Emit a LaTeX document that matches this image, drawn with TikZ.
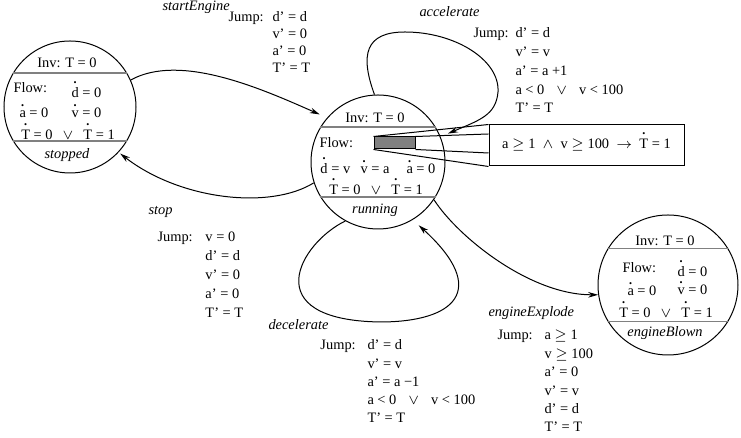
\documentclass[tikz,border=0pt]{standalone}
\usepackage{fontspec}
\setmainfont{Liberation Serif}
\usepackage{graphicx}
\usetikzlibrary{arrows.meta}
\newcommand{\figfont}{\fontsize{7.2}{8.6}\selectfont}
\newlength{\dotht}
\newcommand{\dt}[1]{\settoheight{\dotht}{#1}%
  \ooalign{#1\cr\hidewidth\raisebox{\dimexpr\dotht+0.2em\relax}{\scalebox{0.6}{\textbullet}}\hidewidth\cr}}
\newcommand{\trow}{\dt{T} = 0\hspace{5pt}$\vee$\hspace{5pt}\dt{T} = 1}
\newcommand{\modeframe}[5]{%
  \node[mode=#4] (#1) at (#2,#3) {};
  \draw[chord] (#1.149) -- (#1.31);
  \draw[chord] (#1.211) -- (#1.329);
  \node[lbl] (#1-inv) at ([shift={(-3,39)}]#1.center) {Inv: T = 0};
  \node[lbl] (#1-trow) at ([shift={(-2,-33)}]#1.center) {\trow};
  \node[lbl,font=\figfont\itshape] (#1-name) at ([shift={(-3,-52)}]#1.center) {#5};
}
\newcommand{\jumpblock}[6]{%
  \node[txt] (#1-jump) at (#2,#4) {Jump:};
  \foreach \e [count=\i from 0] in {#6}
    {\node[txt] (#1-\i) at (#3,{#4-\i*#5}) {\e};}%
}

\begin{document}
\begin{tikzpicture}[x=0.5pt,y=0.5pt,line width=0.5pt,font=\figfont,
  mode/.style={circle,draw,inner sep=0pt,minimum size=#1},
  chord/.style={draw=gray,line width=0.8pt},
  lbl/.style={anchor=base,inner sep=0pt},
  txt/.style={anchor=base west,inner sep=0pt},
  tname/.style={txt,font=\figfont\itshape},
  trans/.style={-{Stealth[length=5pt,width=2.8pt]},shorten >=4pt}]
  \useasboundingbox (0,0) rectangle (741,438);

  % locations
  \modeframe{stopped}{70}{331}{66pt}{stopped}
  \modeframe{running}{378}{276}{67pt}{running}
  \modeframe{blown}{668}{153}{70pt}{engineBlown}

  % flows
  \node[txt] (stopped-flow) at (13,345) {Flow:};
  \node[txt] (stopped-d) at (71,340) {\dt{d} = 0};
  \node[txt] (stopped-a) at (19,320) {\dt{a} = 0};
  \node[txt] (stopped-v) at (71,320) {\dt{v} = 0};
  \node[txt] (running-flow) at (319,290) {Flow:};
  \node[txt] (running-d) at (320,264) {\dt{d} = v};
  \node[txt] (running-v) at (360,264) {\dt{v} = a};
  \node[txt] (running-a) at (406,264) {\dt{a} = 0};
  \node[txt] (blown-flow) at (622,165) {Flow:};
  \node[txt] (blown-d) at (677,161) {\dt{d} = 0};
  \node[txt] (blown-a) at (627,142) {\dt{a} = 0};
  \node[txt] (blown-v) at (677,143) {\dt{v} = 0};

  % zoomed guard
  \node[draw,fill=gray,minimum width=20.5pt,minimum height=6pt,inner sep=0pt] (hilite) at (394.5,295) {};
  \node[draw,minimum width=97.5pt,minimum height=20.5pt,inner sep=0pt] (guard) at (586.5,292.5)
    {a $\geq$ 1\enspace$\wedge$\enspace v $\geq$ 100\enspace$\rightarrow$\enspace\dt{T} = 1};
  \draw (hilite.north west) -- (guard.north west);
  \draw (hilite.north east) -- ([yshift=5.75pt]guard.west);
  \draw (hilite.south east) -- ([yshift=-3.75pt]guard.west);
  \draw (hilite.south west) -- (guard.south west);

  % transitions
  \draw[trans] (stopped.24) .. controls (180,385) and (260,350) .. (running.139);
  \draw[trans,shorten >=1pt] (running.198) .. controls (270,228) and (180,238) .. (stopped.317);
  \draw[trans,shorten >=0pt] (running.326) .. controls (458,201) and (530,143) .. (blown.188);
  \draw[trans] (running.93) .. controls (360,383) and (365,406) .. (405,406)
    .. controls (455,406) and (500,378) .. (498,346)
    .. controls (496,323) and (480,318) .. (running.22);
  \draw[trans] (running.241) .. controls (300,195) and (255,118) .. (380,116)
    .. controls (455,116) and (490,148) .. (running.301);

  % jump labels
  \node[tname] (start-name) at (162,427) {startEngine};
  \jumpblock{start}{228}{272}{416}{16.7}{d' = d, v' = 0, a' = 0, T' = T}
  \node[tname] (acc-name) at (419,421) {accelerate};
  \jumpblock{acc}{473}{515}{400}{18.75}{d' = d, v' = v, a' = a +1,
    a < 0\hspace{6pt}$\vee$\hspace{6pt}v < 100, T' = T}
  \node[tname] (stop-name) at (148,223) {stop};
  \jumpblock{stop}{157}{205}{196}{19}{v = 0, d' = d, v' = 0, a' = 0, T' = T}
  \node[tname] (dec-name) at (268,108) {decelerate};
  \jumpblock{dec}{320}{367}{88}{18.25}{d' = d, v' = v, a' = a −1,
    a < 0\hspace{6pt}$\vee$\hspace{6pt}v < 100, T' = T}
  \node[tname] (expl-name) at (488,121) {engineExplode};
  \jumpblock{expl}{497}{544}{98}{18.4}{a $\geq$ 1, v $\geq$ 100, a' = 0, v' = v, d' = d, T' = T}
\end{tikzpicture}
\end{document}
